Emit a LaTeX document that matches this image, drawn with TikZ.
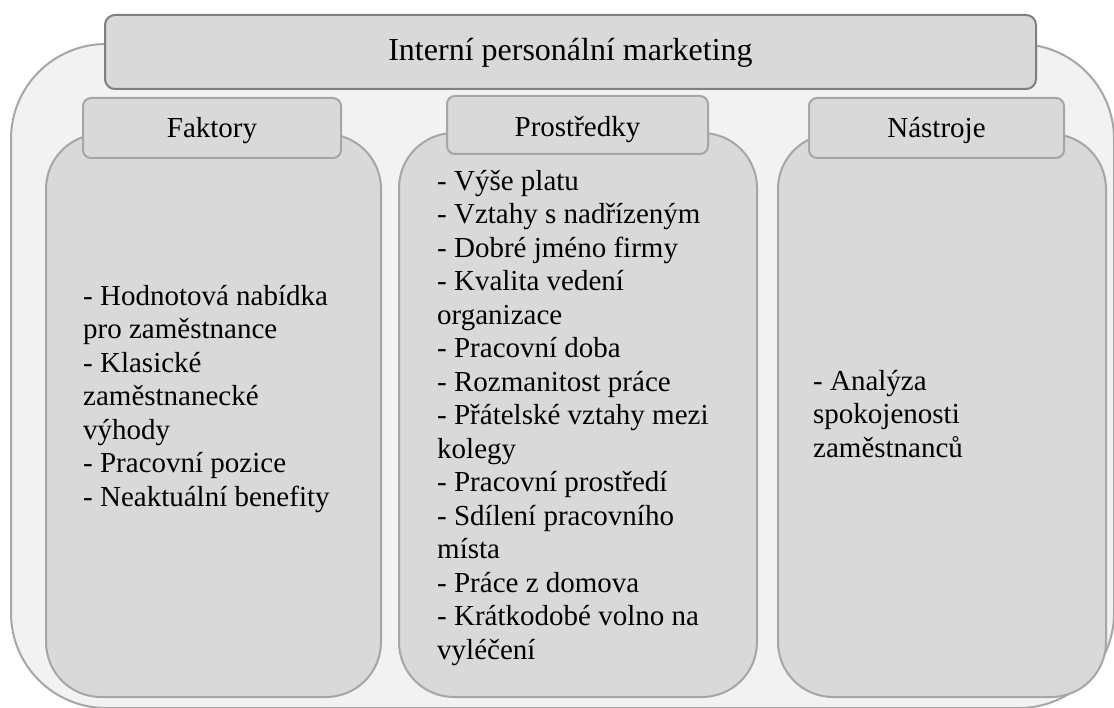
\documentclass[tikz,border=0pt]{standalone}
\usepackage{fontspec}
\setmainfont{Liberation Serif}
\definecolor{outerfill}{HTML}{F2F2F2}
\definecolor{boxfill}{HTML}{D9D9D9}
\definecolor{lightline}{HTML}{A6A6A6}
\definecolor{darkline}{HTML}{7F7F7F}
\begin{document}
\begin{tikzpicture}[x=1pt,y=-1pt,
  outerbox/.style={draw=lightline, fill=outerfill, line width=2pt, rounded corners=95pt, anchor=north west, inner sep=0pt},
  titlebox/.style={draw=darkline, fill=boxfill, line width=2pt, rounded corners=10pt, anchor=north west, inner sep=0pt, text height=22pt, text depth=4pt, font=\fontsize{32}{36}\selectfont},
  bodybox/.style={draw=lightline, fill=boxfill, line width=2pt, rounded corners=55pt, anchor=north west, inner sep=0pt},
  headbox/.style={draw=lightline, fill=boxfill, line width=2pt, rounded corners=8pt, anchor=north west, inner sep=0pt, text height=20pt, text depth=0pt, font=\fontsize{29}{33.5}\selectfont},
  itemtext/.style={anchor=north west, inner sep=0pt, align=left, font=\fontsize{29}{33.5}\selectfont}
]
\useasboundingbox (0,0) rectangle (1114,708);
\node[outerbox, minimum width=1103pt, minimum height=664pt] (outer) at (10,43) {};
\node[titlebox, minimum width=931pt, minimum height=74pt] (title) at (104,14) {Interní personální marketing};
\node[bodybox, minimum width=335pt, minimum height=563pt] (fbody) at (45,133) {};
\node[bodybox, minimum width=358pt, minimum height=564pt] (pbody) at (398,132) {};
\node[bodybox, minimum width=328pt, minimum height=563pt] (nbody) at (777,133) {};
\node[headbox, minimum width=258pt, minimum height=60pt] (fhead) at (82,97) {Faktory};
\node[headbox, minimum width=261pt, minimum height=58pt, text height=23pt] (phead) at (446,95) {Prostředky};
\node[headbox, minimum width=255pt, minimum height=60pt] (nhead) at (808,97) {Nástroje};
\node[itemtext] (ftext) at (83,285) {- Hodnotová nabídka\\pro zaměstnance\\- Klasické\\zaměstnanecké\\výhody\\- Pracovní pozice\\- Neaktuální benefity};
\node[itemtext] (ptext) at (437,170) {- Výše platu\\- Vztahy s nadřízeným\\- Dobré jméno firmy\\- Kvalita vedení\\organizace\\- Pracovní doba\\- Rozmanitost práce\\- Přátelské vztahy mezi\\kolegy\\- Pracovní prostředí\\- Sdílení pracovního\\místa\\- Práce z domova\\- Krátkodobé volno na\\vyléčení};
\node[itemtext] (ntext) at (813,370) {- Analýza\\spokojenosti\\zaměstnanců};
\end{tikzpicture}
\end{document}
